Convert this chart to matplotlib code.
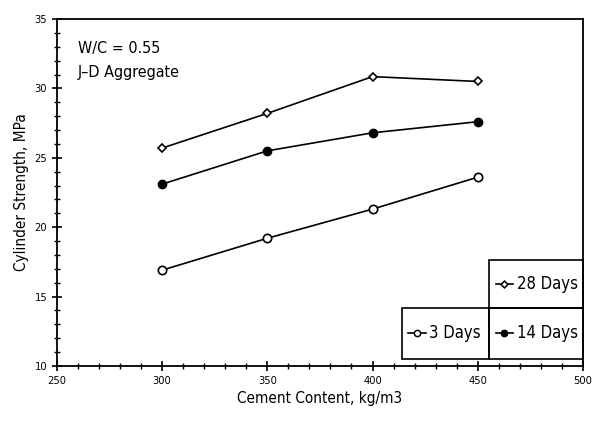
import matplotlib
matplotlib.use('Agg')
import matplotlib.pyplot as plt
from matplotlib.patches import Rectangle

plt.rcParams['font.family'] = ['DejaVu Sans']
plt.rcParams['font.stretch'] = 'condensed'

# Data
cement = [300, 350, 400, 450]
days_3 = [16.9, 19.2, 21.3, 23.6]
days_14 = [23.1, 25.5, 26.8, 27.6]
days_28 = [25.7, 28.2, 30.85, 30.5]

fig = plt.figure(figsize=(5.93, 4.23), dpi=100)
ax = fig.add_axes([0.096, 0.135, 0.887, 0.82])

ax.plot(cement, days_28, color='black', lw=1.2, marker='D', ms=4.5,
        mfc='white', mec='black', mew=1.2)
ax.plot(cement, days_14, color='black', lw=1.2, marker='o', ms=6,
        mfc='black', mec='black')
ax.plot(cement, days_3, color='black', lw=1.2, marker='o', ms=6,
        mfc='white', mec='black', mew=1.2)

ax.set_xlim(250, 500)
ax.set_ylim(10, 35)
ax.set_xticks([250, 300, 350, 400, 450, 500])
ax.set_xticks(range(250, 501, 10), minor=True)
ax.set_yticks([10, 15, 20, 25, 30, 35])
ax.set_yticks(range(10, 36, 1), minor=True)
ax.tick_params(which='major', direction='inout', length=7, width=1.2, labelsize=8)
ax.tick_params(which='minor', direction='inout', length=4, width=1)
for s in ax.spines.values():
    s.set_linewidth(1.3)

ax.set_xlabel('Cement Content, kg/m3', fontsize=11)
ax.set_ylabel('Cylinder Strength, MPa', fontsize=11)

ax.text(0.04, 0.915, 'W/C = 0.55', transform=ax.transAxes, fontsize=11.5, va='center')
ax.text(0.04, 0.845, 'J\u2013D Aggregate', transform=ax.transAxes, fontsize=11.5, va='center')

# Legend boxes (bottom right)
boxes = [
    # (x0, y0, w, h) in axes fraction, label, marker, facecolor, marker size
    ((0.822, 0.167, 0.178, 0.138), '28 Days', 'D', 'white', 3.5),
    ((0.656, 0.02, 0.166, 0.147), '3 Days', 'o', 'white', 4.5),
    ((0.822, 0.02, 0.178, 0.147), '14 Days', 'o', 'black', 4.5),
]
for (x0, y0, w, h), lab, mk, fc, ms in boxes:
    ax.add_patch(Rectangle((x0, y0), w, h, transform=ax.transAxes,
                           fill=False, ec='black', lw=1.2, clip_on=False))
    yc = y0 + h / 2
    ax.plot([x0 + 0.012, x0 + 0.045], [yc, yc], transform=ax.transAxes,
            color='black', lw=1.2)
    ax.plot([x0 + 0.0285], [yc], transform=ax.transAxes, marker=mk, ms=ms,
            mfc=fc, mec='black', mew=1.1, color='black')
    ax.text(x0 + 0.052, yc, lab, transform=ax.transAxes, fontsize=12, va='center')

fig.savefig('out.png', dpi=100)
